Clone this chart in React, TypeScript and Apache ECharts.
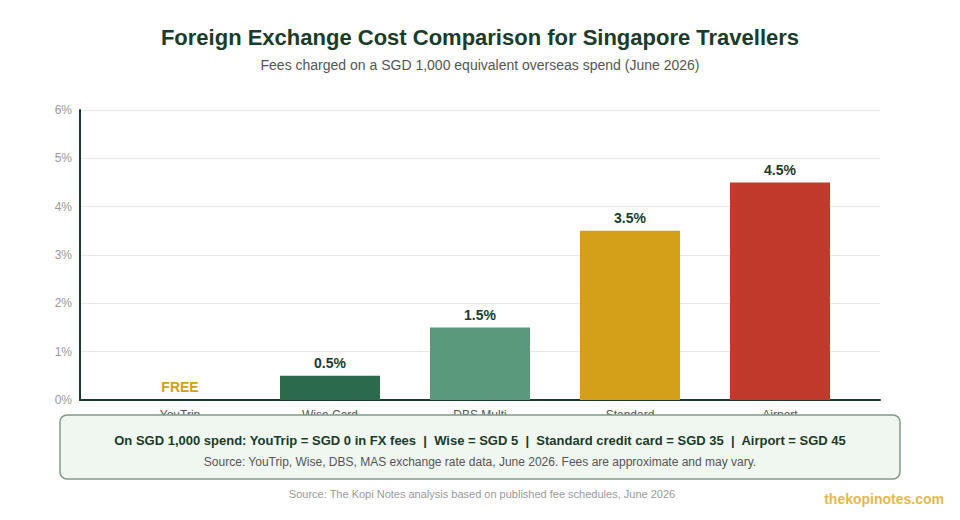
import React, { useEffect, useRef } from "react";
import * as echarts from "echarts";

const categories = ["YouTrip", "Wise Card", "DBS Multi", "Standard", "Airport"];
const feePercent = [0, 0.5, 1.5, 3.5, 4.5];
const barColors = ["#d4a017", "#2b6a4b", "#5a9a7b", "#d4a01a", "#c0392b"];
const yTicks = [0, 1, 2, 3, 4, 5, 6];

const TITLE = "Foreign Exchange Cost Comparison for Singapore Travellers";
const SUBTITLE = "Fees charged on a SGD 1,000 equivalent overseas spend (June 2026)";
const BOX_LINE1 = "On SGD 1,000 spend: YouTrip = SGD 0 in FX fees  |  Wise = SGD 5  |  Standard credit card = SGD 35  |  Airport = SGD 45";
const BOX_LINE2 = "Source: YouTrip, Wise, DBS, MAS exchange rate data, June 2026. Fees are approximate and may vary.";
const FOOTER = "Source: The Kopi Notes analysis based on published fee schedules, June 2026";
const BRAND = "thekopinotes.com";

const FONT = "'Liberation Sans', Arial, Helvetica, sans-serif";
const DARK = "#1b3b2b";

export default function App() {
  const ref = useRef<HTMLDivElement>(null);
  useEffect(() => {
    document.body.style.margin = "0";
    if (!ref.current) return;
    const chart = echarts.init(ref.current, undefined, { renderer: "svg" });
    const option: any = {
      animation: false,
      backgroundColor: "#ffffff",
      textStyle: { fontFamily: FONT },
      title: [
        {
          text: TITLE,
          left: "center",
          top: 21,
          textStyle: { fontFamily: FONT, fontSize: 22, fontWeight: "bold", color: DARK },
        },
        {
          text: SUBTITLE,
          left: "center",
          top: 53,
          textStyle: { fontFamily: FONT, fontSize: 14, fontWeight: "normal", color: "#555555" },
        },
      ],
      grid: [
        { left: 80, width: 800, top: 110, height: 290, containLabel: false },
        { left: 105, width: 750, top: 110, height: 290, containLabel: false },
      ],
      xAxis: [
        {
          type: "value",
          gridIndex: 0,
          min: 0,
          max: 1,
          axisLine: { show: true, lineStyle: { color: DARK, width: 2 } },
          axisTick: { show: false },
          axisLabel: { show: false },
          splitLine: { show: false },
        },
        {
          type: "category",
          gridIndex: 1,
          data: categories,
          axisLine: { show: false },
          axisTick: { show: false },
          axisLabel: { color: "#555555", fontSize: 12, fontFamily: FONT, margin: 8, lineHeight: 14 },
        },
      ],
      yAxis: [
        {
          type: "value",
          gridIndex: 0,
          min: yTicks[0],
          max: yTicks[yTicks.length - 1],
          interval: 1,
          axisLine: { show: true, lineStyle: { color: DARK, width: 2 } },
          axisTick: { show: false },
          axisLabel: { formatter: "{value}%", color: "#999999", fontSize: 12, fontFamily: FONT, margin: 8 },
          splitLine: { show: true, lineStyle: { color: "#e8e8e8", width: 1 } },
        },
        {
          type: "value",
          gridIndex: 1,
          min: 0,
          max: 6,
          show: false,
        },
      ],
      series: [
        {
          type: "bar",
          xAxisIndex: 1,
          yAxisIndex: 1,
          barWidth: 100,
          data: feePercent.map((v, i) => ({
            value: v,
            itemStyle: { color: barColors[i] },
            label:
              v === 0
                ? { formatter: "FREE", color: "#d4a017" }
                : { formatter: v + "%" },
          })),
          label: {
            show: true,
            position: "top",
            distance: 6,
            fontFamily: FONT,
            fontSize: 14,
            fontWeight: "bold",
            color: DARK,
          },
        },
      ],
      graphic: [
        {
          type: "rect",
          z: 100,
          shape: { x: 60, y: 415, width: 840, height: 64, r: 7 },
          style: { fill: "#f0f7f0", stroke: "#7f9a8b", lineWidth: 1.5 },
        },
        {
          type: "text",
          z: 101,
          x: 480,
          y: 440,
          style: {
            text: BOX_LINE1,
            fill: DARK,
            font: `bold 13px ${FONT}`,
            textAlign: "center",
            textVerticalAlign: "middle",
          },
        },
        {
          type: "text",
          z: 101,
          x: 480,
          y: 462,
          style: {
            text: BOX_LINE2,
            fill: "#555555",
            font: `12px ${FONT}`,
            textAlign: "center",
            textVerticalAlign: "middle",
          },
        },
        {
          type: "text",
          z: 101,
          x: 482,
          y: 494,
          style: {
            text: FOOTER,
            fill: "#999999",
            font: `11px ${FONT}`,
            textAlign: "center",
            textVerticalAlign: "middle",
          },
        },
        {
          type: "text",
          z: 101,
          x: 944,
          y: 499,
          style: {
            text: BRAND,
            fill: "#e3b94f",
            font: `bold 14px ${FONT}`,
            textAlign: "right",
            textVerticalAlign: "middle",
          },
        },
      ],
    };
    chart.setOption(option);
    return () => chart.dispose();
  }, []);
  return <div ref={ref} style={{ width: 960, height: 520 }} />;
}
